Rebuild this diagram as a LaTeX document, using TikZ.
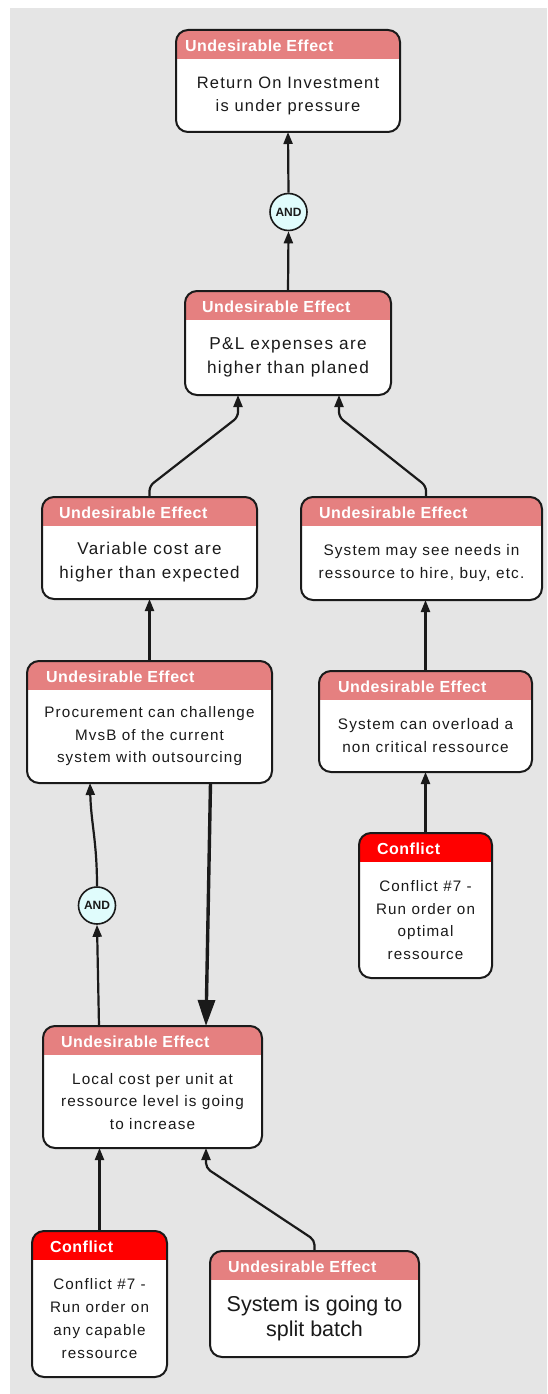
\documentclass[tikz,border=0pt]{standalone}
\usepackage{fontspec}
\setmainfont{Liberation Sans}
\newfontfamily\cardfont{Liberation Sans}[LetterSpace=7.5]
\newfontfamily\hdrfont{Liberation Sans}[LetterSpace=3]
\usetikzlibrary{arrows.meta,calc}

\definecolor{canvas}{HTML}{E5E5E5}
\definecolor{uehead}{HTML}{E58080}
\definecolor{cfhead}{HTML}{FF0000}
\definecolor{ink}{HTML}{1A1A1A}
\definecolor{gatefill}{HTML}{E0FCFC}

\tikzset{
  card/.style={fill=white, rounded corners=12pt,
    rectangle, inner sep=0pt, outer sep=0pt},
  cardrim/.style={draw=ink, line width=2pt, rounded corners=12pt},
  uecard/.style={card, path picture={\fill[uehead, sharp corners]
      (path picture bounding box.north west) rectangle
      ([yshift=-29pt]path picture bounding box.north east);}},
  cfcard/.style={card, path picture={\fill[cfhead, sharp corners]
      (path picture bounding box.north west) rectangle
      ([yshift=-29pt]path picture bounding box.north east);}},
  hdrtext/.style={text=white, inner sep=0pt, anchor=base west,
    font=\fontsize{16}{19}\hdrfont\bfseries},
  bodytext/.style 2 args={text=ink, inner sep=0pt, align=center,
    font=\fontsize{#1}{#2}\cardfont},
  andgate/.style={circle, draw=ink, line width=1.6pt, fill=gatefill,
    minimum size=37pt, inner sep=0pt, text=ink,
    font=\fontsize{12}{14}\selectfont\bfseries},
  link/.style={draw=ink, line width=2.2pt,
    -{Triangle[length=12pt,width=9pt]}},
  biglink/.style={draw=ink, line width=3.4pt,
    -{Triangle[length=26pt,width=17pt]}},
}

% #1 name, #2 centre, #3 width, #4 height, #5 card style, #6 title offset, #7 title
\newcommand\effectcard[7]{%
  \node[#5, minimum width=#3, minimum height=#4] (#1) at (#2) {};
  \draw[cardrim] (#1.south west) rectangle (#1.north east);
  \node[hdrtext] (#1-h) at ($(#1.north west)+(#6,21.5)$) {#7};
}

\begin{document}
\begin{tikzpicture}[x=1pt, y=-1pt]
\useasboundingbox (0,0) rectangle (547,1394);
\fill[canvas] (10,8) rectangle (547,1394);

% cards
\effectcard{roi}{288,81}{224}{102}{uecard}{9}{Undesirable Effect}
\node[bodytext={16.5}{23}] (roi-t) at (288,95.5) {Return On Investment\\is under pressure};

\effectcard{pl}{288,343}{206}{104}{uecard}{17}{Undesirable Effect}
\node[bodytext={17.2}{24}] (pl-t) at (288,357.5) {P\&L expenses are\\higher than planed};

\effectcard{vc}{149.5,548}{215}{102}{uecard}{17}{Undesirable Effect}
\node[bodytext={17}{24}] (vc-t) at (149.5,562.5) {Variable cost are\\higher than expected};

\effectcard{needs}{421.5,548.5}{241}{103}{uecard}{18}{Undesirable Effect}
\node[bodytext={15.3}{23}] (needs-t) at (421.5,563)
  {System may see needs in\\ressource to hire, buy, etc.};

\effectcard{proc}{149.5,722}{245}{122}{uecard}{19}{Undesirable Effect}
\node[bodytext={15.2}{22.5}] (proc-t) at (149.5,736.5)
  {Procurement can challenge\\MvsB of the current\\system with outsourcing};

\effectcard{ov}{425.5,721.5}{213}{101}{uecard}{19}{Undesirable Effect}
\node[bodytext={15.3}{23}] (ov-t) at (425.5,736) {System can overload a\\non critical ressource};

\effectcard{cr}{425.5,905.5}{133}{145}{cfcard}{18}{Conflict}
\node[bodytext={15.2}{22.7}] (cr-t) at (425.5,920)
  {Conflict \#7 -\\Run order on\\optimal\\ressource};

\effectcard{loc}{152.5,1087}{219}{122}{uecard}{18}{Undesirable Effect}
\node[bodytext={15.3}{22.7}] (loc-t) at (152.5,1101.5)
  {Local cost per unit at\\ressource level is going\\to increase};

\effectcard{cl}{99.5,1304}{135}{146}{cfcard}{18}{Conflict}
\node[bodytext={15.2}{22.7}] (cl-t) at (99.5,1318.5)
  {Conflict \#7 -\\Run order on\\any capable\\ressource};

\effectcard{split}{314.5,1304}{209}{106}{uecard}{18}{Undesirable Effect}
\node[bodytext={21.5}{25}, font=\fontsize{21.5}{25}\selectfont] (split-t) at (314.5,1318.5)
  {System is going to\\split batch};

% AND gates
\node[andgate] (and1) at (288.5,212) {AND};
\node[andgate] (and2) at (97,905.5) {AND};

% connectors
\draw[link] (and1.north) -- (roi.south);
\draw[link] (pl.north) -- (and1.south);
\draw[link, rounded corners=5pt] (vc.north) -- ++(0,-11)
  -- ($(pl.south)+(-50,22)$) -- ($(pl.south)+(-50,0)$);
\draw[link, rounded corners=5pt] ($(needs.north)+(4.5,0)$) -- ++(0,-11)
  -- ($(pl.south)+(51,22)$) -- ($(pl.south)+(51,0)$);
\draw[link] (proc.north) -- (vc.south);
\draw[link] (ov.north) -- (ov.north |- needs.south);
\draw[link] (cr.north) -- (ov.south);
\draw[biglink] ($(proc.south)+(61,0)$) -- ($(loc.north)+(53.5,0)$);
\draw[link] (and2.north) .. controls +(0,-45) and +(1,40) .. ($(proc.south)+(-59.5,0)$);
\draw[link] ($(loc.north)+(-53.5,0)$) -- (and2.south);
\draw[link] (cl.north) -- ($(loc.south)+(-53,0)$);
\draw[link, rounded corners=5pt] (split.north) -- ++(0,-11)
  -- ($(loc.south)+(53.5,20)$) -- ($(loc.south)+(53.5,0)$);
\end{tikzpicture}
\end{document}
